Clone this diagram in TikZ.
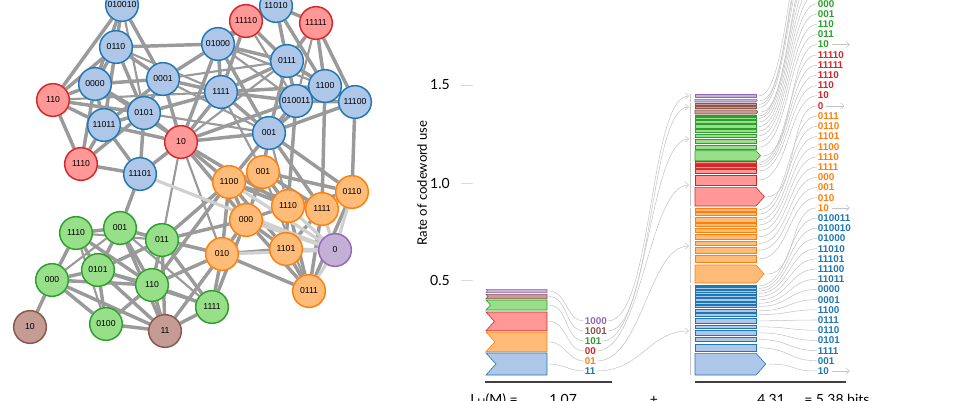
\documentclass[tikz,border=0pt]{standalone}
\usepackage{fontspec}
\setmainfont{Liberation Sans}
\newfontfamily\gillfont{Lato}
\usetikzlibrary{arrows.meta, backgrounds}

\definecolor{fblue}{HTML}{AEC7E8}
\definecolor{lblue}{HTML}{1F77B4}
\definecolor{fred}{HTML}{FF9896}
\definecolor{lred}{HTML}{D62728}
\definecolor{forange}{HTML}{FFBB78}
\definecolor{lorange}{HTML}{FF7F0E}
\definecolor{fgreen}{HTML}{98DF8A}
\definecolor{lgreen}{HTML}{2CA02C}
\definecolor{fpurple}{HTML}{C5B0D5}
\definecolor{lpurple}{HTML}{9467BD}
\definecolor{fbrown}{HTML}{C49C94}
\definecolor{lbrown}{HTML}{8C564B}
\definecolor{edgegray}{HTML}{9A9A9A}
\definecolor{faintgray}{HTML}{D0D0D0}
\definecolor{flowgray}{HTML}{C4C4C4}

\begin{document}
\begin{tikzpicture}[
    x=0.75pt, y=-0.75pt,
    >={Straight Barb[length=2.5pt,width=4.5pt]},
    vertex/.style={circle, draw, line width=1.1pt, minimum size=24.5pt, inner sep=0pt,
        font=\fontsize{6.5}{7}\selectfont},
    link/.style={draw=edgegray, line width=2.6pt},
    thin link/.style={draw=edgegray, line width=1.6pt},
    faint link/.style={draw=faintgray, line width=2.4pt},
    bar/.style={line width=0.45pt},
    flow/.style={draw=flowgray, line width=0.4pt},
    code/.style={anchor=west, inner sep=0.5pt, font=\fontsize{7.4}{8}\selectfont\bfseries},
    tick/.style={anchor=east, inner sep=0pt, font=\gillfont\fontsize{10.5}{12}\selectfont},
    eq/.style={inner sep=0pt, font=\gillfont\fontsize{10.5}{12}\selectfont}
]
\useasboundingbox (0,0) rectangle (970,400);
\clip (0,0) rectangle (970,400);

% -------------------------
% Network, coloured by module
% -------------------------
\foreach \n/\x/\y/\c/\t in {
    b1/122/5/blue/010010, b2/116/47/blue/0110, b3/95/84/blue/0000,
    b4/163/79/blue/0001, b5/144/113/blue/0101, b6/104/125/blue/11011,
    b7/140/174/blue/11101, b8/276/6/blue/11010, b9/218/44/blue/01000,
    b10/221/92/blue/1111, b11/287/61/blue/0111, b12/325/86/blue/1100,
    b13/296/101/blue/010011, b14/355/102/blue/11100, b15/269/133/blue/001,
    r1/246/21/red/11110, r2/316/23/red/11111, r3/53/100/red/110,
    r4/81/164/red/1110, r5/181/142/red/10,
    o1/229/182/orange/1100, o2/263/172/orange/001, o3/352/192/orange/0110,
    o4/288/206/orange/1110, o5/322/209/orange/1111, o6/246/220/orange/000,
    o7/222/254/orange/010, o8/286/249/orange/1101, o9/309/291/orange/0111,
    p1/335/250/purple/0,
    g1/76/233/green/1110, g2/120/228/green/001, g3/162/240/green/011,
    g4/98/270/green/0101, g5/52/280/green/000, g6/152/285/green/110,
    g7/212/307/green/1111, g8/106/324/green/0100,
    n1/30/327/brown/10, n2/165/331/brown/11}
    \node[vertex, draw=l\c, fill=f\c] (\n) at (\x,\y) {\t};

\begin{pgfonlayer}{background}
% links inside and between modules
\foreach \a/\b in {
    b1/b2, b1/r3, b1/b4, b1/b3, b2/b3, b2/b4, b2/b5, b2/b6, b2/b9, b2/r3,
    b3/b4, b3/b5, b3/b6, b3/r3, b3/r4, b4/b5, b4/b6, b4/b9, b4/b10, b4/r5,
    b5/b6, b5/b7, b5/r5, b5/b10, b5/r4, b6/b7, b6/r3, b6/r4, b6/r5,
    b7/r4, b7/r5, b7/g2, r3/r4, r3/b5, r5/b10, r5/b15, r5/b9, r5/b13,
    r5/o1, r5/o6, r5/o4, b9/b8, b9/r1, b9/b10, b9/b11, b9/b15,
    b8/r1, b8/b11, b8/r2, b8/b12, r1/b11, r1/b10, r2/b11, r2/b12, r2/b14,
    b11/b12, b11/b13, b11/b10, b11/b15, b10/b13, b10/b15, b10/b12,
    b12/b13, b12/b14, b12/b15, b12/o5, b13/b15, b13/b14, b13/o4,
    b14/b15, b14/o3, b15/o2, b15/o1, b15/o3, b15/o5,
    o1/o2, o1/o4, o1/o6, o1/o7, o1/o8, o2/o4, o2/o5, o2/o3, o2/o6,
    o3/o5, o3/o9, o3/o4, o4/o5, o4/o6, o4/o8, o4/o9, o5/o8, o5/o9,
    o6/o7, o6/o8, o6/o9, o7/o8, o7/o9, o8/o9,
    o7/g3, o7/g6, o7/g7, o7/n2, o1/g3, o6/g3, o6/g7, o1/g6,
    g1/g2, g1/g4, g1/g5, g1/g6, g2/g3, g2/g4, g2/g6, g2/n2,
    g3/g4, g3/g6, g3/g7, g3/n2, g4/g5, g4/g6, g4/g8, g4/n2,
    g5/g6, g5/g8, g5/n2, g5/n1, g6/g7, g6/g8, g6/n2, g7/n2, g8/n2}
    \draw[link] (\a) -- (\b);
\foreach \a/\b in {
    b1/b5, b2/b10, b3/r5, b4/b15, b5/b15, r5/b11, r5/o7, r5/g3,
    b9/b12, b8/b13, r2/b13, b11/b14, b15/o4, o7/g2, g1/g3, g2/g5, g4/g7,
    b4/b11, b6/b10, r3/b10, b9/b13, r1/b13, b10/o2, o2/o9, o1/o5, g2/g7, g1/g8}
    \draw[thin link] (\a) -- (\b);
\foreach \a/\b in {p1/b7, p1/o3, p1/o9, p1/o8, p1/o7, p1/o1, p1/o4, p1/o5, p1/o6}
    \draw[faint link] (\a) -- (\b);
\end{pgfonlayer}

% -------------------------
% Axis
% -------------------------
\node[rotate=90, inner sep=0pt, font=\gillfont\fontsize{9.8}{12}\selectfont] (axislabel) at (422,183) {Rate of codeword use};
\foreach \v/\yy [count=\j] in {1.5/85, 1.0/183, 0.5/280}{
    \node[tick] (tick\j) at (450,\yy) {\v};
    \draw[black!15, line width=0.6pt] (461,\yy) -- (473,\yy);
}

% -------------------------
% Index codebook (left stack)
% -------------------------
\foreach \yt/\yb/\c/\lab/\ly/\ty [count=\k] in {
    289.3/292.7/purple/1000/321/96,
    294.3/298.7/brown/1001/331/107,
    300/310/green/101/341/139,
    312/330.7/red/00/351/185,
    332/351.7/orange/01/361/246,
    353/375/blue/11/371/331}{
    \pgfmathsetmacro\ym{(\yt+\yb)/2}
    \pgfmathsetmacro\notch{0.45*(\yb-\yt)}
    \filldraw[bar, fill=f\c, draw=l\c] (486,\yt) -- (547,\yt) -- (547,\yb) -- (486,\yb) -- ({486+\notch},\ym) -- cycle;
    \coordinate (ix\k) at (549,\ym);
    \node[code, text=l\c] (lab\k) at (584,\ly) {\lab};
    \coordinate (en\k) at (689,\ty);
    \draw[flow] (ix\k) to[out=0, in=180] (lab\k.west);
    \draw[flow, ->] (lab\k.east) .. controls +(45,0) and +(-40,0) .. (en\k);
}
\draw[black!75, line width=1.5pt] (485,382) -- (612,382);

% -------------------------
% Module codebooks (right stack)
% -------------------------
\foreach \ya/\yb in {94.3/102, 103.3/114, 115/160.7, 161.5/206, 208/283, 285/375}
    \draw[flow] (690,\ya) -- (690,\yb);
\foreach \yt/\yb/\c/\lab/\e [count=\i from 0] in {
    94.3/97.3/purple/{}/0, 99.3/102/purple/{}/1,
    103.3/105.6/brown/{}/0, 106.2/108.7/brown/{}/0, 110/114/brown/{}/1,
    115/116.7/green/{}/0, 117.3/119.3/green/{}/0, 120.7/123.3/green/{}/0,
    124.7/128.3/green/{}/0, 129.3/132.7/green/000/0, 134/137.3/green/001/0,
    139.3/143.3/green/110/0, 145.3/149/green/011/0, 150.7/160.7/green/10/1,
    161.5/163/red/11110/0, 163.8/165.5/red/11111/0, 166.3/168/red/1110/0,
    168.8/173.3/red/110/0, 175/185/red/10/0, 187.3/206/red/0/1,
    208/211/orange/0111/0, 212.3/215.7/orange/0110/0, 217.3/222.3/orange/1101/0,
    223.3/226.7/orange/1100/0, 228.3/232.7/orange/1110/0, 234.3/239.3/orange/1111/0,
    241.3/245.7/orange/000/0, 247.3/253.3/orange/001/0, 255.7/262.3/orange/010/0,
    265/283/orange/10/1,
    285/286.7/blue/010011/0, 287.7/289.3/blue/010010/0, 290/292/blue/01000/0,
    292.7/294.3/blue/11010/0, 295.3/297.7/blue/11101/0, 298.7/301/blue/11100/0,
    302.3/304.3/blue/11011/0, 305.3/307.7/blue/0000/0, 309.3/312.3/blue/0001/0,
    313.3/316/blue/1100/0, 318.3/323.3/blue/0111/0, 325/328.7/blue/0110/0,
    330.7/335/blue/0101/0, 337.3/341.7/blue/1111/0, 344/351.7/blue/001/0,
    353.3/375/blue/10/1}{
    \pgfmathsetmacro\ym{(\yt+\yb)/2}
    \pgfmathsetmacro\tip{0.45*(\yb-\yt)*\e}
    \pgfmathsetmacro\ly{371-(45-\i)*10.2}
    \filldraw[bar, fill=f\c, draw=l\c] (695,\yt) -- (756,\yt) -- ({756+\tip},\ym) -- (756,\yb) -- (695,\yb) -- cycle;
    \coordinate (mb\i) at ({759+\tip},\ym);
    \node[code, text=l\c] (ml\i) at (817,\ly) {\lab};
    \draw[flow] (mb\i) .. controls +(30,0) and +(-28,0) .. (ml\i.west);
}
% exits
\foreach \i in {13,19,29,45}
    \draw[flow, ->] ([xshift=1.5pt]ml\i.east) -- ++(13.5pt,0);
\draw[black!75, line width=1.5pt] (695,382) -- (846,382);

% -------------------------
% Description length
% -------------------------
\node[eq, anchor=base west] (eqlhs) at (470,404) {L\raisebox{-1.5pt}{\footnotesize H}(M) =};
\node[eq, anchor=base west] (eqindex) at (549,404) {1.07};
\node[eq, anchor=base] (eqplus) at (654,404) {+};
\node[eq, anchor=base west] (eqmodule) at (757,404) {4.31};
\node[eq, anchor=base west] (eqtotal) at (804,404) {= 5.38 bits};

\end{tikzpicture}
\end{document}
